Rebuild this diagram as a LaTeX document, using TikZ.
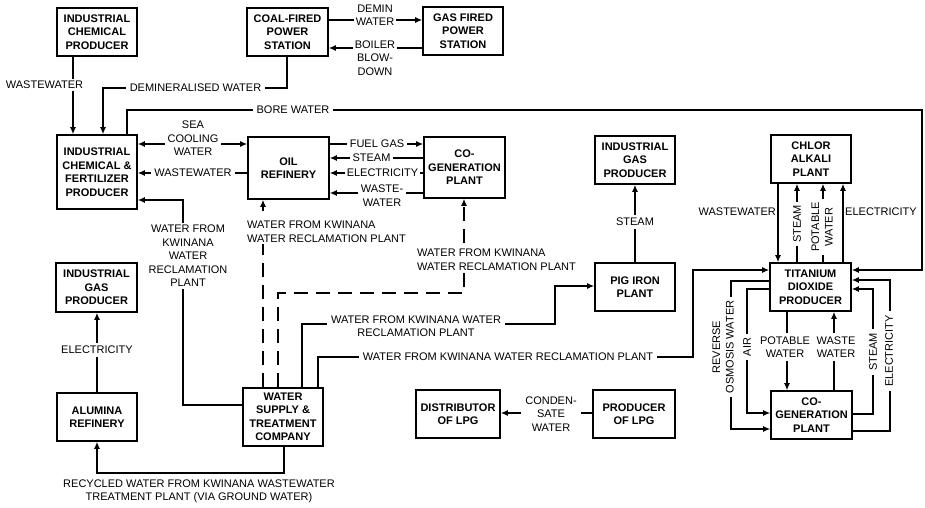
\documentclass[tikz,border=0pt]{standalone}
\usepackage{fontspec}
\setmainfont{Liberation Sans}
\usetikzlibrary{arrows.meta}
\begin{document}
\begin{tikzpicture}[x=1pt,y=-1pt,
  every node/.style={font=\fontsize{11pt}{13.5pt}\selectfont, inner sep=0pt},
  box/.style={draw, line width=1.7pt, font=\fontsize{11pt}{13.5pt}\selectfont\bfseries, align=center},
  lbl/.style={fill=white, align=center, inner sep=2pt},
  conn/.style={line width=1.1pt},
  arr/.style={conn, -{Latex[length=7pt,width=6pt]}},
  arrboth/.style={conn, {Latex[length=7pt,width=6pt]}-{Latex[length=7pt,width=6pt]}},
  dsh/.style={dash pattern=on 14pt off 8pt}
]
\useasboundingbox (0,0) rectangle (925,507);

% boxes
\node[box, minimum width=80pt, minimum height=48pt] (icp) at (97,32) {INDUSTRIAL\\CHEMICAL\\PRODUCER};
\node[box, minimum width=81pt, minimum height=48pt] (coal) at (287.5,32) {COAL-FIRED\\POWER\\STATION};
\node[box, minimum width=80pt, minimum height=48pt] (gasf) at (463,31) {GAS FIRED\\POWER\\STATION};
\node[box, minimum width=80pt, minimum height=74pt] (fert) at (97,172) {INDUSTRIAL\\CHEMICAL \&\\FERTILIZER\\PRODUCER};
\node[box, minimum width=81pt, minimum height=62pt] (oil) at (288.5,168) {OIL\\REFINERY};
\node[box, minimum width=81pt, minimum height=61pt] (cogenA) at (464.5,167.5) {CO-\\GENERATION\\PLANT};
\node[box, minimum width=80pt, minimum height=48pt] (igpB) at (635,160) {INDUSTRIAL\\GAS\\PRODUCER};
\node[box, minimum width=80pt, minimum height=48pt] (chlor) at (811,159) {CHLOR\\ALKALI\\PLANT};
\node[box, minimum width=80pt, minimum height=48pt] (pig) at (635,287) {PIG IRON\\PLANT};
\node[box, minimum width=81pt, minimum height=48pt] (tio) at (810.5,287) {TITANIUM\\DIOXIDE\\PRODUCER};
\node[box, minimum width=81pt, minimum height=49pt] (igpA) at (96.5,287.5) {INDUSTRIAL\\GAS\\PRODUCER};
\node[box, minimum width=80pt, minimum height=48pt] (alu) at (97,417) {ALUMINA\\REFINERY};
\node[box, minimum width=80pt, minimum height=58pt] (wst) at (283,417) {WATER\\SUPPLY \&\\TREATMENT\\COMPANY};
\node[box, minimum width=84pt, minimum height=48pt] (dist) at (458,414) {DISTRIBUTOR\\OF LPG};
\node[box, minimum width=82pt, minimum height=48pt] (prod) at (634,414) {PRODUCER\\OF LPG};
\node[box, minimum width=81pt, minimum height=48pt] (cogenB) at (811.5,415) {CO-\\GENERATION\\PLANT};

% connectors
\draw[arr] (73,0 |- icp.south) -- (73,0 |- fert.north);
\draw[arr] (287,0 |- coal.south) -- (287,88) -- (103,88) -- (103,0 |- fert.north);
\draw[arr] (127,0 |- fert.north) -- (127,110) -- (922,110) -- (922,270) -- (tio.east |- 0,270);
\draw[arr] (coal.east |- 0,20) -- (gasf.west |- 0,20);
\draw[arr] (gasf.west |- 0,48) -- (coal.east |- 0,48);
\draw[arrboth] (fert.east |- 0,144) -- (oil.west |- 0,144);
\draw[arr] (oil.west |- 0,173) -- (fert.east |- 0,173);
\draw[arr] (wst.west |- 0,405) -- (183,405) -- (183,200) -- (fert.east |- 0,200);
\draw[arr] (oil.east |- 0,144) -- (cogenA.west |- 0,144);
\draw[arr] (cogenA.west |- 0,158) -- (oil.east |- 0,158);
\draw[arr] (cogenA.west |- 0,173) -- (oil.east |- 0,173);
\draw[arr] (cogenA.west |- 0,193) -- (oil.east |- 0,193);
\draw[arr, dsh] (263,0 |- wst.north) -- (263,0 |- oil.south);
\draw[arr, dsh] (278,0 |- wst.north) -- (278,293) -- (464,293) -- (464,0 |- cogenA.south);
\draw[arr] (302,0 |- wst.north) -- (302,324) -- (555,324) -- (555,286) -- (pig.west |- 0,286);
\draw[arr] (318,0 |- wst.north) -- (318,357) -- (693,357) -- (693,270) -- (tio.west |- 0,270);
\draw[arr] (284,0 |- wst.south) -- (284,473) -- (97,473) -- (97,0 |- alu.south);
\draw[arr] (97,0 |- alu.north) -- (97,0 |- igpA.south);
\draw[arr] (pig.north) -- (igpB.south);
\draw[arr] (prod.west |- 0,413) -- (dist.east |- 0,413);
\draw[arr] (778,0 |- chlor.south) -- (778,0 |- tio.north);
\draw[arr] (797,0 |- tio.north) -- (797,0 |- chlor.south);
\draw[arr] (823,0 |- tio.north) -- (823,0 |- chlor.south);
\draw[arr] (843,0 |- tio.north) -- (843,0 |- chlor.south);
\draw[arr] (787,0 |- tio.south) -- (787,0 |- cogenB.north);
\draw[arr] (834,0 |- cogenB.north) -- (834,0 |- tio.south);
\draw[arr] (tio.west |- 0,281) -- (731,281) -- (731,429) -- (cogenB.west |- 0,429);
\draw[arr] (tio.west |- 0,289) -- (747,289) -- (747,413) -- (cogenB.west |- 0,413);
\draw[arr] (cogenB.east |- 0,414) -- (873,414) -- (873,289) -- (tio.east |- 0,289);
\draw[arr] (cogenB.east |- 0,431) -- (890,431) -- (890,280) -- (tio.east |- 0,280);

% labels
\node[lbl] (l1) at (44.5,85) {WASTEWATER};
\node[lbl, inner sep=4pt] (l2) at (195.5,88) {DEMINERALISED WATER};
\node[lbl, inner sep=4pt] (l3) at (293,110) {BORE WATER};
\node[lbl] (l4) at (375,15) {DEMIN\\WATER};
\node[lbl] (l5) at (375,58) {BOILER\\BLOW-\\DOWN};
\node[lbl, inner sep=3pt] (l6) at (193,138.5) {SEA\\COOLING\\WATER};
\node[lbl, inner sep=3pt] (l7) at (193,173) {WASTEWATER};
\node[lbl] (l8) at (188,256) {WATER FROM\\KWINANA\\WATER\\RECLAMATION\\PLANT};
\node[lbl, inner sep=3pt] (l9) at (377,144) {FUEL GAS};
\node[lbl, inner sep=3pt] (l10) at (371.5,158) {STEAM};
\node[lbl] (l11) at (382.5,173) {ELECTRICITY};
\node[lbl, inner sep=3pt] (l12) at (382,195.5) {WASTE-\\WATER};
\node[lbl, align=left, anchor=west] (l13) at (245,231.5) {WATER FROM KWINANA\\WATER RECLAMATION PLANT};
\node[lbl, align=left, anchor=west] (l14) at (415,259.5) {WATER FROM KWINANA\\WATER RECLAMATION PLANT};
\node[lbl, inner sep=4pt] (l15) at (416,326) {WATER FROM KWINANA WATER\\RECLAMATION PLANT};
\node[lbl, inner sep=4pt] (l16) at (508,357) {WATER FROM KWINANA WATER RECLAMATION PLANT};
\node[lbl, inner sep=3pt] (l17) at (97,350) {ELECTRICITY};
\node[align=center] (l18) at (199,491.5) {RECYCLED WATER FROM KWINANA WASTEWATER\\TREATMENT PLANT (VIA GROUND WATER)};
\node[lbl, inner sep=3pt] (l19) at (635,222) {STEAM};
\node[lbl, inner sep=4pt] (l20) at (551,414) {CONDEN-\\SATE\\WATER};
\node[anchor=east] (l21) at (776,212) {WASTEWATER};
\node[lbl, rotate=90, inner sep=3pt] (l22) at (797,224) {STEAM};
\node[lbl, rotate=90, inner sep=3pt] (l23) at (822,227) {POTABLE\\WATER};
\node[anchor=west] (l24) at (845,212) {ELECTRICITY};
\node[lbl, inner sep=3pt] (l25) at (785,347) {POTABLE\\WATER};
\node[lbl, inner sep=3pt] (l26) at (836,347) {WASTE\\WATER};
\node[lbl, rotate=90, inner sep=4pt] (l27) at (723,347) {REVERSE\\OSMOSIS WATER};
\node[lbl, rotate=90, inner sep=4pt] (l28) at (747,347) {AIR};
\node[lbl, rotate=90, inner sep=4pt] (l29) at (873,352) {STEAM};
\node[lbl, rotate=90, inner sep=4pt] (l30) at (889,351) {ELECTRICITY};
\end{tikzpicture}
\end{document}
